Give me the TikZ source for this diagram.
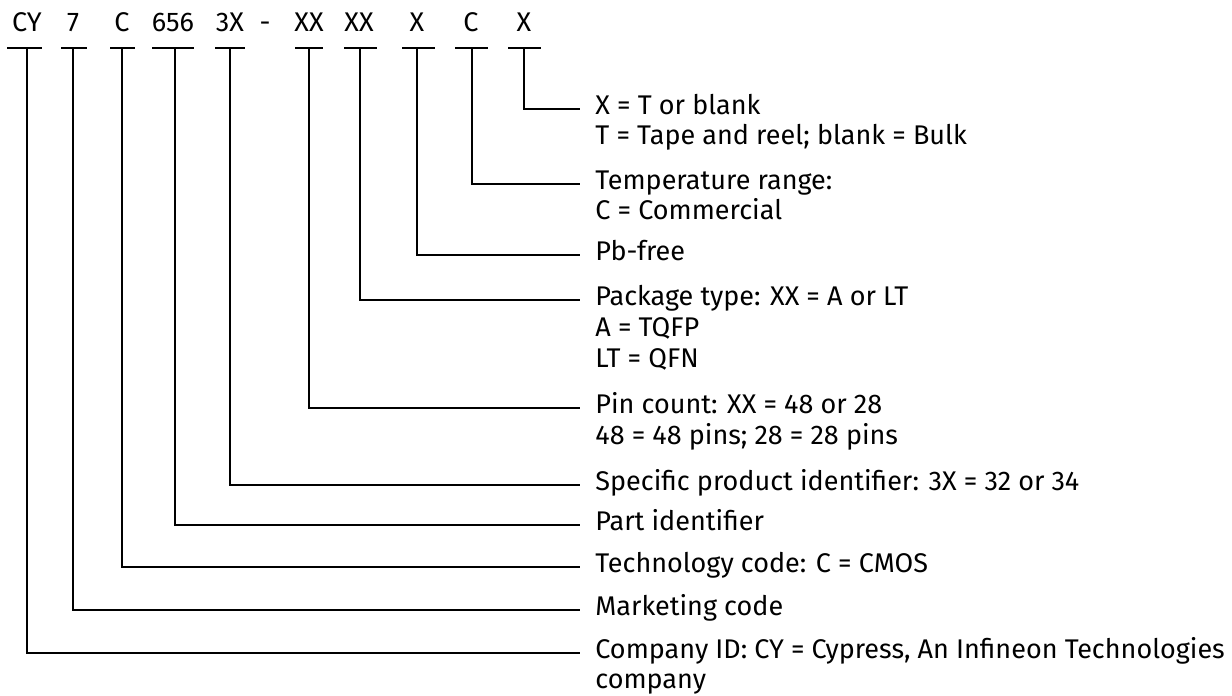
\documentclass[tikz,border=0pt]{standalone}
\usepackage{fontspec}
\setmainfont{Fira Sans}
\usepackage{tikz}
\usetikzlibrary{positioning}

\begin{document}
\begin{tikzpicture}[x=0.5pt, y=-0.5pt, font={\fontsize{13.5}{15.5}\selectfont},
    code/.style={anchor=base, inner sep=0pt},
    desc/.style={anchor=mid west, inner xsep=7.5pt, inner ysep=0pt},
    more/.style={anchor=base west, inner xsep=7.5pt, inner ysep=0pt},
    bar/.style={line width=1pt},
    lead/.style={line width=1pt}]
  \useasboundingbox (0,0) rectangle (1232,696);
  \node[code] (cy)   at (27,32)  {CY};
  \node[code] (mkt)  at (73,32)  {7};
  \node[code] (tech) at (122,32) {C};
  \node[code] (part) at (173,32) {656};
  \node[code] (spec) at (230,32) {3X};
  \node[code] (dash) at (265,32) {-};
  \node[code] (pins) at (309,32) {XX};
  \node[code] (pkg)  at (359,32) {XX};
  \node[code] (pbf)  at (417,32) {X};
  \node[code] (temp) at (471,32) {C};
  \node[code] (opt)  at (524,32) {X};
  \draw[bar] (7,48) -- (42,48);
  \draw[bar] (61,48) -- (87,48);
  \draw[bar] (110,48) -- (135,48);
  \draw[bar] (152,48) -- (194,48);
  \draw[bar] (215,48) -- (245,48);
  \draw[bar] (295,48) -- (323,48);
  \draw[bar] (344,48) -- (377,48);
  \draw[bar] (402,48) -- (435,48);
  \draw[bar] (455,48) -- (488,48);
  \draw[bar] (508,48) -- (541,48);
  \coordinate (bcy)   at (27,48);
  \coordinate (bmkt)  at (73,48);
  \coordinate (btech) at (122,48);
  \coordinate (bpart) at (175,48);
  \coordinate (bspec) at (230,48);
  \coordinate (bpins) at (309,48);
  \coordinate (bpkg)  at (360,48);
  \coordinate (bpbf)  at (417,48);
  \coordinate (btemp) at (472,48);
  \coordinate (bopt)  at (524,48);
  \node[desc] (dopt)  at (580,109) {X = T or blank};
  \node[more] (dopt2) at ([yshift=-15pt]dopt.base west) {T = Tape and reel; blank = Bulk};
  \node[desc] (dtemp) at (580,184) {Temperature range:};
  \node[more] (dtemp2) at ([yshift=-15pt]dtemp.base west) {C = Commercial};
  \node[desc] (dpbf)  at (580,255) {Pb-free};
  \node[desc] (dpkg)  at (580,300) {Package type: XX = A or LT};
  \node[more] (dpkg2) at ([yshift=-15.5pt]dpkg.base west) {A = TQFP};
  \node[more] (dpkg3) at ([yshift=-15.5pt]dpkg2.base west) {LT = QFN};
  \node[desc] (dpins) at (580,408) {Pin count: XX = 48 or 28};
  \node[more] (dpins2) at ([yshift=-15.5pt]dpins.base west) {48 = 48 pins; 28 = 28 pins};
  \node[desc] (dspec) at (580,485) {Specific product identifier: 3X = 32 or 34};
  \node[desc] (dpart) at (580,525) {Part identifier};
  \node[desc] (dtech) at (580,567) {Technology code: C = CMOS};
  \node[desc] (dmkt)  at (580,610) {Marketing code};
  \node[desc] (dcomp) at (580,653) {Company ID: CY = Cypress, An Infineon Technologies};
  \node[more] (dcomp2) at ([yshift=-15pt]dcomp.base west) {company};
  \draw[lead] (bopt)  |- (dopt.mid west);
  \draw[lead] (btemp) |- (dtemp.mid west);
  \draw[lead] (bpbf)  |- (dpbf.mid west);
  \draw[lead] (bpkg)  |- (dpkg.mid west);
  \draw[lead] (bpins) |- (dpins.mid west);
  \draw[lead] (bspec) |- (dspec.mid west);
  \draw[lead] (bpart) |- (dpart.mid west);
  \draw[lead] (btech) |- (dtech.mid west);
  \draw[lead] (bmkt)  |- (dmkt.mid west);
  \draw[lead] (bcy)   |- (dcomp.mid west);
\end{tikzpicture}
\end{document}
